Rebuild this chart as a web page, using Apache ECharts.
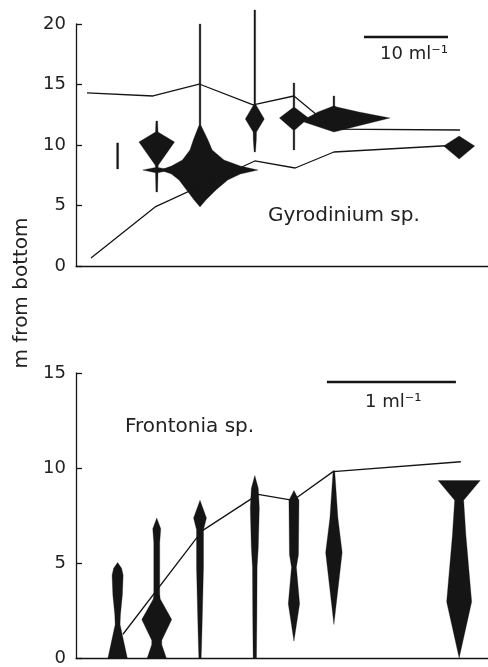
<!DOCTYPE html>
<html>
<head>
<meta charset="utf-8">
<script src="https://cdn.jsdelivr.net/npm/echarts@6/dist/echarts.min.js"></script>
<style>html,body{margin:0;padding:0;background:#fff}#c{width:488px;height:667px}</style>
</head>
<body>
<div id="c"></div>
<script>
// Station positions along the transect (arbitrary distance units, 0-100)
const stations = [10.1, 19.6, 30.1, 43.4, 52.9, 62.6, 93.0];

// Gyrodinium sp. kite profiles: [m from bottom, left half, right half] in ml^-1 (left+right = density)
const gyro1 = [[10.17,0.12,0.12],[8.02,0.12,0.12]];
const gyro2 = [[11.98,0.1,0.1],[11.07,0.15,0.15],[10.25,2.12,2.12],[8.35,0.2,0.2],[8.15,0.15,0.15],[7.93,1.67,1.67],[7.7,0.15,0.15],[6.12,0.1,0.1]];
const gyro3 = [[20.0,0.1,0.1],[11.65,0.1,0.1],[11.49,0.2,0.2],[10.41,0.8,0.95],[9.59,1.2,1.45],[8.76,2.1,2.85],[8.26,3.4,4.8],[7.93,4.76,6.9],[7.6,3.4,4.8],[7.11,2.5,3.3],[6.28,1.6,1.9],[5.45,0.7,0.7],[4.88,0,0]];
const gyro4 = [[21.16,0.1,0.1],[13.4,0.1,0.1],[13.31,0.15,0.15],[12.15,1.13,1.13],[11.07,0.2,0.2],[10.41,0.18,0.18],[9.42,0.08,0.08]];
const gyro5 = [[15.12,0.1,0.1],[13.1,0.1,0.1],[12.23,1.73,1.73],[11.24,0.1,0.1],[9.59,0.1,0.1]];
const gyro6 = [[14.05,0.1,0.1],[13.22,0.1,0.1],[13.14,0.36,0.36],[12.73,1.9,2.98],[12.23,3.21,6.67],[11.9,3.57,4.76],[11.49,1.79,2.38],[11.07,0,0]];
const gyro7 = [[10.74,0,0],[9.92,1.85,1.85],[8.84,0,0]];

// Frontonia sp. kite profiles
const front1 = [[5.03,0,0],[4.72,0.031,0.031],[4.36,0.043,0.043],[3.32,0.037,0.037],[2.28,0.022,0.022],[1.76,0.019,0.019],[0,0.075,0.075]];
const front2 = [[7.37,0,0],[6.8,0.031,0.031],[6.07,0.023,0.023],[3.37,0.023,0.023],[3.11,0.027,0.027],[2.02,0.116,0.116],[0.93,0.039,0.039],[0.7,0.039,0.039],[0,0.074,0.074]];
const front3 = [[8.3,0,0],[7.37,0.05,0.05],[6.75,0.027,0.027],[4.77,0.027,0.027],[2.18,0.018,0.018],[0.62,0.012,0.012],[0,0.009,0.009]];
const front4 = [[9.6,0,0],[8.93,0.027,0.027],[7.89,0.035,0.035],[5.81,0.027,0.027],[4.77,0.018,0.018],[2.18,0.016,0.016],[0,0.013,0.013]];
const front5 = [[8.82,0,0],[8.3,0.039,0.039],[5.45,0.035,0.035],[4.77,0.019,0.019],[2.85,0.044,0.044],[0.88,0,0]];
const front6 = [[9.86,0.006,0.006],[9.08,0.014,0.014],[7.37,0.031,0.031],[5.55,0.064,0.064],[1.76,0,0]];
const front7 = [[9.34,0.163,0.163],[8.3,0.035,0.035],[6.49,0.052,0.052],[2.96,0.097,0.097],[0,0,0]];

// Boundary lines
const gyroUpperX = [2.67, 18.7, 29.9, 43.0, 52.9, 62.6, 93.2];
const gyroUpperY = [14.30, 14.05, 15.04, 13.31, 14.05, 11.32, 11.24];
const gyroLowerX = [3.64, 19.2, 43.4, 53.2, 62.6, 93.0];
const gyroLowerY = [0.66, 4.88, 8.68, 8.10, 9.42, 10.0];
const frontLineX = [11.4, 30.6, 44.2, 52.7, 62.4, 93.4];
const frontLineY = [1.25, 6.69, 8.61, 8.30, 9.81, 10.33];

// Scale bars (ml^-1) and tick labels
const gyroScale = 10;   // 10 ml^-1
const frontScale = 1;   // 1 ml^-1
const gyroTicks = [0, 5, 10, 15, 20];
const frontTicks = [0, 5, 10, 15];

// x-units per ml^-1 of kite width
const gyroUnits = 2.039;
const frontUnits = 31.31;

const INK = '#151515';
const FONT = 'DejaVu Sans';

const gyroProfiles = [gyro1, gyro2, gyro3, gyro4, gyro5, gyro6, gyro7];
const frontProfiles = [front1, front2, front3, front4, front5, front6, front7];

function kite(profiles, units) {
  return function (params, api) {
    const st = api.value(0);
    const prof = profiles[params.dataIndex];
    const right = prof.map(p => api.coord([st + p[2] * units, p[0]]));
    const left = prof.slice().reverse().map(p => api.coord([st - p[1] * units, p[0]]));
    return { type: 'polygon', shape: { points: right.concat(left) }, style: { fill: INK, stroke: INK, lineWidth: 0.3 } };
  };
}

function bar(x0, len, y) {
  return function (params, api) {
    const a = api.coord([x0, y]);
    const b = api.coord([x0 + len, y]);
    return { type: 'line', shape: { x1: a[0], y1: a[1], x2: b[0], y2: b[1] }, style: { stroke: INK, lineWidth: 2.5 } };
  };
}

function yAxisCfg(idx, max, ticks) {
  return {
    type: 'value', gridIndex: idx, min: 0, max: max, interval: 5,
    axisLine: { show: true, lineStyle: { color: INK, width: 1.3 } },
    axisTick: { show: true, inside: true, length: 6, lineStyle: { color: INK, width: 1.3 } },
    splitLine: { show: false },
    axisLabel: { margin: 10, fontSize: 18, fontFamily: FONT, color: '#222',
      formatter: v => ticks.indexOf(v) >= 0 ? String(v) : '' }
  };
}
function xAxisCfg(idx) {
  return {
    type: 'value', gridIndex: idx, min: 0, max: 100,
    axisLine: { show: true, onZero: false, lineStyle: { color: INK, width: 1.3 } },
    axisTick: { show: false }, axisLabel: { show: false }, splitLine: { show: false }
  };
}

const chart = echarts.init(document.getElementById('c'), null, { renderer: 'canvas' });
chart.setOption({
  backgroundColor: '#fff',
  animation: false,
  grid: [
    { left: 76, top: 24, width: 412, height: 242 },
    { left: 76, top: 373, width: 412, height: 289 }
  ],
  xAxis: [xAxisCfg(0), xAxisCfg(1)],
  yAxis: [yAxisCfg(0, 20, gyroTicks), yAxisCfg(1, 15, frontTicks)],
  series: [
    { type: 'line', xAxisIndex: 0, yAxisIndex: 0, showSymbol: false, symbol: 'none',
      lineStyle: { color: INK, width: 1.3 }, data: gyroUpperX.map((x, i) => [x, gyroUpperY[i]]) },
    { type: 'line', xAxisIndex: 0, yAxisIndex: 0, showSymbol: false, symbol: 'none',
      lineStyle: { color: INK, width: 1.3 }, data: gyroLowerX.map((x, i) => [x, gyroLowerY[i]]) },
    { type: 'line', xAxisIndex: 1, yAxisIndex: 1, showSymbol: false, symbol: 'none',
      lineStyle: { color: INK, width: 1.3 }, data: frontLineX.map((x, i) => [x, frontLineY[i]]) },
    { type: 'custom', xAxisIndex: 0, yAxisIndex: 0, clip: false, renderItem: kite(gyroProfiles, gyroUnits),
      data: stations.map(s => [s, 0]), z: 3 },
    { type: 'custom', xAxisIndex: 1, yAxisIndex: 1, clip: false, renderItem: kite(frontProfiles, frontUnits),
      data: stations.map(s => [s, 0]), z: 3 },
    { type: 'custom', xAxisIndex: 0, yAxisIndex: 0, clip: false,
      renderItem: bar(69.9, gyroScale * gyroUnits * 1, 18.93), data: [[69.9, 18.93]] },
    { type: 'custom', xAxisIndex: 1, yAxisIndex: 1, clip: false,
      renderItem: bar(60.9, frontScale * frontUnits, 14.53), data: [[60.9, 14.53]] }
  ],
  graphic: [
    { type: 'text', left: 380, top: 45, style: { text: '10 ml⁻¹', font: '18px "DejaVu Sans"', fill: '#222' } },
    { type: 'text', left: 365, top: 393, style: { text: '1 ml⁻¹', font: '18px "DejaVu Sans"', fill: '#222' } },
    { type: 'text', left: 268, top: 206, style: { text: 'Gyrodinium sp.', font: '20px "DejaVu Sans"', fill: '#222' } },
    { type: 'text', left: 125, top: 417, style: { text: 'Frontonia sp.', font: '20px "DejaVu Sans"', fill: '#222' } },
    { type: 'text', x: 22, y: 293, rotation: Math.PI / 2,
      style: { text: 'm from bottom', font: '20px "DejaVu Sans"', fill: '#222', align: 'center', verticalAlign: 'middle' } }
  ]
});
</script>
</body>
</html>
